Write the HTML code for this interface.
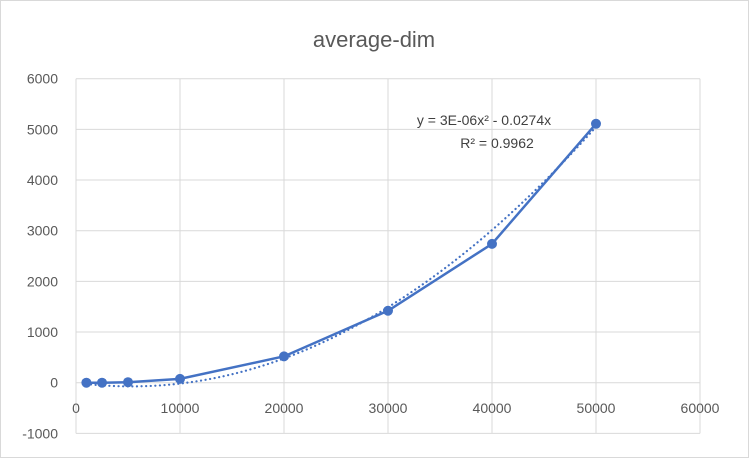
<!DOCTYPE html>
<html><head><meta charset="utf-8"><style>
body{margin:0;background:#fff;}
svg{display:block;font-family:"Liberation Sans",sans-serif;}
</style></head><body>
<svg id="chart" width="749" height="458">
<rect x="0.5" y="0.5" width="748" height="457" fill="#fff" stroke="#d9d9d9"/>
<text x="374" y="47" text-anchor="middle" font-size="22" fill="#595959">average-dim</text>
<g id="grid"></g><g id="series"></g>
<text x="484" y="125" text-anchor="middle" font-size="14" fill="#404040">y = 3E-06x² - 0.0274x</text>
<text x="497" y="148" text-anchor="middle" font-size="14" fill="#404040">R² = 0.9962</text>
</svg>
<script>
const xs=[1000,2500,5000,10000,20000,30000,40000,50000];
const ys=[0,0,10,75,520,1420,2740,5110];
const xTicks=[0,10000,20000,30000,40000,50000,60000];
const yTicks=[-1000,0,1000,2000,3000,4000,5000,6000];
// unrounded fit coefficients (label shows rounded 3E-06)
const trendCoef=[0.000002568,-0.0274];
const X=v=>76+v*(624/60000), Y=v=>382.7-v*(304/6000);
const NS='http://www.w3.org/2000/svg';
const g=document.getElementById('grid'), s=document.getElementById('series');
function mk(p,tag,a){const e=document.createElementNS(NS,tag);for(const k in a)e.setAttribute(k,a[k]);p.appendChild(e);return e;}
yTicks.forEach(t=>{
 const l=mk(g,'line',{x1:76,x2:700,y1:Y(t),y2:Y(t),stroke:'#d9d9d9','stroke-width':1});
 
 
 const tx=mk(g,'text',{x:58,y:Y(t)+5,'text-anchor':'end','font-size':14,fill:'#595959'});tx.textContent=t;
 
 
});
xTicks.forEach(t=>{
 const l=mk(g,'line',{x1:X(t),x2:X(t),y1:Y(6000),y2:Y(-1000),stroke:'#d9d9d9','stroke-width':1});
 
 
 const tx=mk(g,'text',{x:X(t),y:413,'text-anchor':'middle','font-size':14,fill:'#595959'});tx.textContent=t;
 
 
});
let tp=[];for(let x=xs[0];x<=xs[xs.length-1];x+=250){tp.push(X(x)+','+Y(trendCoef[0]*x*x+trendCoef[1]*x));}
const tr=mk(s,'polyline',{points:tp.join(' '),fill:'none',stroke:'#4472c4','stroke-width':2.2,'stroke-dasharray':'0.1 4.5','stroke-linecap':'round'});


const ln=mk(s,'polyline',{points:xs.map((x,i)=>X(x)+','+Y(ys[i])).join(' '),fill:'none',stroke:'#4472c4','stroke-width':2.5});


xs.forEach((x,i)=>{const c=mk(s,'circle',{cx:X(x),cy:Y(ys[i]),r:5,fill:'#4472c4'});
 
 });
</script>
</body></html>
